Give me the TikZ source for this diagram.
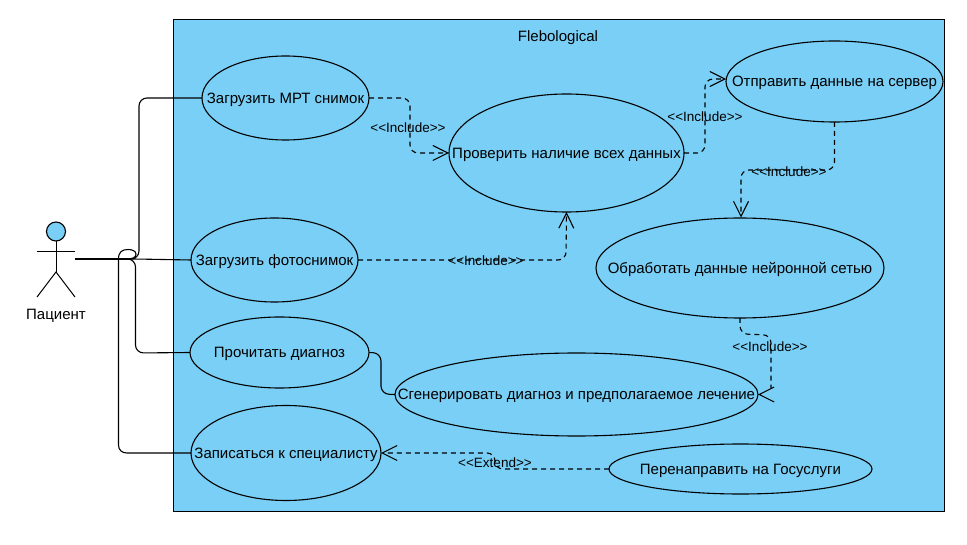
\documentclass[tikz,border=0pt]{standalone}
\usepackage{fontspec}
\setmainfont{Liberation Sans}[Ligatures=TeXOff]
\usetikzlibrary{arrows.meta,shapes.geometric}
\definecolor{sysblue}{HTML}{79CFF5}
\newcommand{\uctext}[1]{\makebox[0pt]{\raisebox{-5.5pt}[0pt][0pt]{#1}}}
\tikzset{
  every node/.style={font=\fontsize{15}{18}\selectfont, text=black, inner sep=0pt, outer sep=0pt},
  ucase/.style={draw=black, fill=sysblue, ellipse, line width=1.1pt},
  relabel/.style={font=\fontsize{13.5}{16}\selectfont},
  assoc/.style={draw=black, line width=1.1pt, rounded corners=8pt},
  depend/.style={draw=black, line width=1.1pt, rounded corners=8pt, dash pattern=on 5pt off 4pt,
     -{Straight Barb[length=15pt,width=15pt,line width=1.1pt]}},
  plaindash/.style={draw=black, line width=1.1pt, rounded corners=8pt, dash pattern=on 5pt off 4pt},
  tiponly/.style={draw=black, line width=1.1pt, dash pattern=on 0pt off 100pt,
     -{Straight Barb[length=15pt,width=15pt,line width=1.1pt]}},
  limb/.style={draw=black, line width=1pt}
}
\begin{document}
\begin{tikzpicture}[x=1pt,y=-1pt]
\useasboundingbox (0,0) rectangle (967,545);
% system boundary
\node[draw=black, fill=sysblue, line width=0.9pt, minimum width=771pt, minimum height=492pt] (sys) at (558.5,265) {};
\node (title) at (558,37.5) {Flebological};
% actor
\node[draw=black, fill=sysblue, circle, line width=1.1pt, minimum size=19pt] (head) at (56,231.5) {};
\coordinate (arml) at (37,252);
\coordinate (armr) at (75,252);
\coordinate (hip) at (56,272);
\coordinate (legl) at (37,297);
\coordinate (legr) at (75,297);
\draw[limb] (head.south) -- (hip);
\draw[limb] (arml) -- (armr);
\draw[limb] (legl) -- (hip) -- (legr);
\node (patient) at (56,315.5) {Пациент};
\coordinate (act) at (75,259);
% use cases
\node[ucase, minimum width=167pt, minimum height=84pt] (mri) at (285.5,98) {\uctext{Загрузить МРТ снимок}};
\node[ucase, minimum width=235pt, minimum height=118pt] (check) at (566.5,153) {\uctext{Проверить наличие всех данных}};
\node[ucase, minimum width=217pt, minimum height=81pt] (send) at (834.5,81.5) {\uctext{Отправить данные на сервер}};
\node[ucase, minimum width=288pt, minimum height=100pt] (proc) at (740,268) {\uctext{Обработать данные нейронной сетью}};
\node[ucase, minimum width=167pt, minimum height=84pt] (photo) at (274.5,260) {\uctext{Загрузить фотоснимок}};
\node[ucase, minimum width=179pt, minimum height=71pt] (read) at (279.5,352.5) {\uctext{Прочитать диагноз}};
\node[ucase, minimum width=363pt, minimum height=83pt] (gen) at (576.5,394.5) {\uctext{Сгенерировать диагноз и предполагаемое лечение}};
\node[ucase, minimum width=190pt, minimum height=95pt] (book) at (286,453) {\uctext{Записаться к специалисту}};
\node[ucase, minimum width=263pt, minimum height=50pt] (gos) at (740.5,469) {\uctext{Перенаправить на Госуслуги}};
% associations
\draw[assoc] (act) -- (139,259) -- (139,98) -- (mri.west);
\draw[assoc] (act) -- (135,259) -- (photo.west);
\draw[assoc] (act) -- (135.5,259) -- (135.5,353) -- (read.west);
\draw[line width=1.1pt, draw=black] (act) -- (126,259) .. controls (132,259) and (136,258) .. (136,254) .. controls (136,251) and (132,249.5) .. (128,249.5) .. controls (122,249.5) and (118.5,252) .. (118.5,259) -- (118.5,445) .. controls (118.5,450) and (122,453) .. (127,453) -- (book.west);
\draw[assoc] (read.east) -- (381,353) -- (381,394) -- (gen.west);
% dependencies
\draw[depend] (mri.east) -- (410,98) -- (410,153) -- (check.west);
\node[relabel] (l1) at (408,128) {<<Include>>};
\draw[depend] (check.east) -- (705,153) -- (705,79) -- (726,79);
\node[relabel] (l2) at (705,117) {<<Include>>};
\draw[depend] (send.south) -- (834.5,170) -- (741,170) -- (741,217.5);
\node[relabel] (l3) at (789,172) {<<Include>>};
\draw[depend] (photo.east) -- (566,260) -- (check.south);
\node[relabel] (l4) at (486,261) {<<Include>>};
\draw[plaindash] (proc.south) -- (740,334) -- (771,335) -- (771,388);
\draw[tiponly] (775,394.5) -- (gen.east);
\node[relabel] (l5) at (770,347) {<<Include>>};
\draw[depend] (gos.west) -- (495,469) -- (495,453) -- (book.east);
\node[relabel] (l6) at (495,463) {<<Extend>>};
\end{tikzpicture}
\end{document}
